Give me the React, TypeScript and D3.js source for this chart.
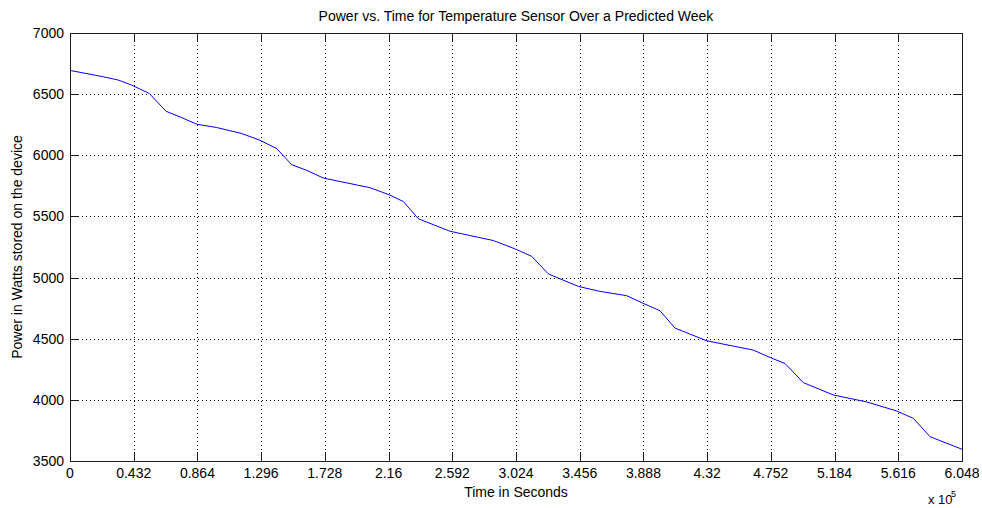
import React from "react";
import * as d3 from "d3";

const timeSec = [0, 22600, 32800, 41800, 53800, 65100, 74600, 85900, 99500, 116400, 128800, 140100, 150300, 160500, 171700, 203400, 215800, 226000, 236200, 257600, 287000, 301700, 313000, 324300, 344600, 359300, 377400, 388700, 400000, 410200, 431700, 463300, 474600, 484800, 497200, 517500, 540200, 560500, 571800, 583100, 604800];
const powerW = [6694, 6642, 6615, 6574, 6505, 6360, 6314, 6254, 6227, 6178, 6123, 6055, 5923, 5877, 5814, 5735, 5680, 5622, 5481, 5379, 5303, 5235, 5174, 5030, 4928, 4887, 4852, 4789, 4729, 4587, 4483, 4407, 4347, 4297, 4141, 4040, 3983, 3909, 3849, 3699, 3596];
const xTickLabels = ["0", "0.432", "0.864", "1.296", "1.728", "2.16", "2.592", "3.024", "3.456", "3.888", "4.32", "4.752", "5.184", "5.616", "6.048"];
const yTicks = [3500, 4000, 4500, 5000, 5500, 6000, 6500, 7000];

const W = 982, H = 508;
const L = 70, R = 962, T = 33, B = 461;
const FONT = "'Liberation Sans', Arial, Helvetica, sans-serif";

export default function App() {
  const x = d3.scaleLinear().domain([0, 604800]).range([L, R]);
  const y = d3.scaleLinear().domain([3500, 7000]).range([B, T]);
  const pts = timeSec.map((t, i) => [t, powerW[i]] as [number, number]);
  const line = d3.line<[number, number]>().x(d => x(d[0])).y(d => y(d[1]));
  const xTicks = xTickLabels.map(s => parseFloat(s) * 1e5);
  const px = (v: number) => Math.round(v) + 0.5;
  const tick = 9;

  return (
    <svg width={W} height={H} style={{ position: "absolute", left: 0, top: 0, background: "#fff" }} fontFamily={FONT}>
      <rect x={0} y={0} width={W} height={H} fill="#fff" />
      {/* grid */}
      <g stroke="#000" strokeWidth={1} strokeDasharray="1,3" shapeRendering="crispEdges">
        {xTicks.slice(1, -1).map((v, i) => (
          <line key={"gx" + i} x1={px(x(v))} x2={px(x(v))} y1={T} y2={B} />
        ))}
        {yTicks.slice(1, -1).map((v, i) => (
          <line key={"gy" + i} x1={L} x2={R} y1={px(y(v))} y2={px(y(v))} />
        ))}
      </g>
      {/* data line */}
      <path d={line(pts) || ""} fill="none" stroke="#0000ff" strokeWidth={1} />
      {/* axes box and ticks */}
      <g stroke="#1a1a1a" strokeWidth={1} shapeRendering="crispEdges">
        <rect x={L + 0.5} y={T + 0.5} width={R - L} height={B - T} fill="none" />
        {xTicks.map((v, i) => (
          <g key={"tx" + i}>
            <line x1={px(x(v))} x2={px(x(v))} y1={B} y2={B - tick} />
            <line x1={px(x(v))} x2={px(x(v))} y1={T} y2={T + tick} />
          </g>
        ))}
        {yTicks.map((v, i) => (
          <g key={"ty" + i}>
            <line x1={L} x2={L + tick} y1={px(y(v))} y2={px(y(v))} />
            <line x1={R} x2={R - tick} y1={px(y(v))} y2={px(y(v))} />
          </g>
        ))}
      </g>
      {/* tick labels */}
      <g fontSize={14} fill="#000">
        {xTicks.map((v, i) => (
          <text key={"lx" + i} x={x(v)} y={478} textAnchor="middle">{xTickLabels[i]}</text>
        ))}
        {yTicks.map((v, i) => (
          <text key={"ly" + i} x={64} y={y(v) + 5} textAnchor="end">{v}</text>
        ))}
      </g>
      <text x={(L + R) / 2} y={21} fontSize={14} textAnchor="middle" fill="#000">
        Power vs. Time for Temperature Sensor Over a Predicted Week
      </text>
      <text x={(L + R) / 2} y={497} fontSize={14} textAnchor="middle" fill="#000">Time in Seconds</text>
      <text transform={`translate(22,${(T + B) / 2}) rotate(-90)`} fontSize={14} textAnchor="middle" fill="#000">
        Power in Watts stored on the device
      </text>
      <text x={928} y={504} fontSize={13} fill="#000">x 10</text>
      <text x={951} y={497} fontSize={9} fill="#000">5</text>
    </svg>
  );
}
